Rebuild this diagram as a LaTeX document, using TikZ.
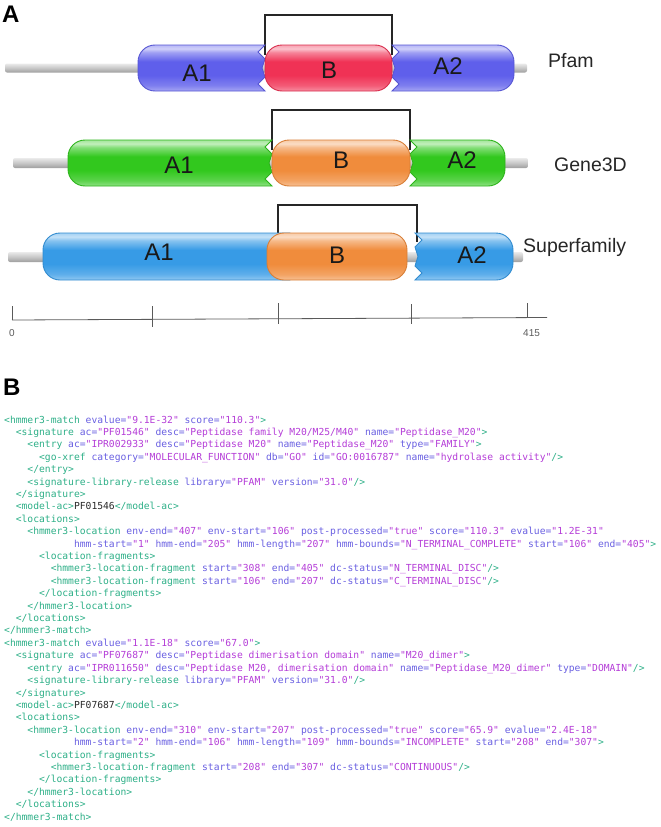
\documentclass[tikz,border=0pt]{standalone}
\usepackage{fontspec}
\setmainfont{Liberation Sans}
\setmonofont{DejaVu Sans Mono}
\definecolor{pfblue}{RGB}{95,95,235}
\definecolor{pfred}{RGB}{240,50,85}
\definecolor{gtgreen}{RGB}{50,200,30}
\definecolor{orng}{RGB}{240,140,60}
\definecolor{sfblue}{RGB}{55,155,230}
\definecolor{tagc}{RGB}{45,175,135}
\definecolor{attc}{RGB}{105,95,225}
\definecolor{valc}{RGB}{180,60,215}
\definecolor{txtc}{RGB}{40,40,40}
\definecolor{axc}{RGB}{90,90,90}
\newcommand{\mkgloss}[1]{\pgfdeclareverticalshading{gloss#1}{100bp}{color(0bp)=(#1!55!white); color(25bp)=(#1!55!white); color(31bp)=(#1!80!white); color(42bp)=(#1); color(57bp)=(#1); color(67bp)=(#1!60!white); color(71bp)=(#1!30!white); color(75bp)=(#1!45!white); color(100bp)=(#1!45!white)}}
\mkgloss{pfblue}\mkgloss{pfred}\mkgloss{gtgreen}\mkgloss{orng}\mkgloss{sfblue}
\newcommand{\xtag}[1]{\textcolor{tagc}{#1}}
\newcommand{\xatt}[1]{\textcolor{attc}{#1}}
\newcommand{\xval}[1]{\textcolor{valc}{#1}}
\newcommand{\xa}[2]{\xatt{#1=}\xval{"#2"}}
\newcommand{\xl}[3]{\node[codeline] (L#1) at ({4+#2*5.82},{423+(#1-1)*12.41}) {#3};}
% pill: rounded left, notched right
\newcommand{\pillLN}[5]{\path[pill=#1] ({#3},{#4}) -- ({#2+17},{#4}) .. controls ({#2+7.6},{#4}) and ({#2},{#4+7.6}) .. ({#2},{#4+17}) -- ({#2},{#5-17}) .. controls ({#2},{#5-7.6}) and ({#2+7.6},{#5}) .. ({#2+17},{#5}) -- ({#3},{#5}) -- ({#3-7},{#5-7}) -- ({#3},{#5-14}) -- ({#3-3},{(#4+#5)/2}) -- ({#3},{#4+14}) -- ({#3-7},{#4+7}) -- cycle;}
% pill: notched left, rounded right
\newcommand{\pillNR}[5]{\path[pill=#1] ({#2},{#4}) -- ({#3-17},{#4}) .. controls ({#3-7.6},{#4}) and ({#3},{#4+7.6}) .. ({#3},{#4+17}) -- ({#3},{#5-17}) .. controls ({#3},{#5-7.6}) and ({#3-7.6},{#5}) .. ({#3-17},{#5}) -- ({#2},{#5}) -- ({#2+7},{#5-7}) -- ({#2},{#5-14}) -- ({#2+3},{(#4+#5)/2}) -- ({#2},{#4+14}) -- ({#2+7},{#4+7}) -- cycle;}
% pill: rounded left, square right
\newcommand{\pillLS}[5]{\path[pill=#1] ({#3},{#4}) -- ({#2+17},{#4}) .. controls ({#2+7.6},{#4}) and ({#2},{#4+7.6}) .. ({#2},{#4+17}) -- ({#2},{#5-17}) .. controls ({#2},{#5-7.6}) and ({#2+7.6},{#5}) .. ({#2+17},{#5}) -- ({#3},{#5}) -- cycle;}
% pill: rounded both ends
\newcommand{\pillRR}[5]{\path[pill=#1, rounded corners=17pt] ({#2},{#4}) rectangle ({#3},{#5});}
\begin{document}
\begin{tikzpicture}[x=1pt,y=-1pt,
  pill/.style={shade, shading=gloss#1, draw=#1!90!black, line width=0.9pt},
  greyline/.style={top color=black!8, bottom color=black!38, middle color=black!22, rounded corners=2pt},
  bracket/.style={draw=black!85, line width=1.4pt},
  dlabel/.style={font=\fontsize{24}{26}\selectfont, text=black!90, inner sep=0pt},
  dbname/.style={font=\fontsize{19.5}{22}\selectfont, text=black!85, anchor=base west, inner sep=0pt},
  panel/.style={font=\bfseries\fontsize{24}{26}\selectfont, anchor=base west, inner sep=0pt},
  axis/.style={draw=axc, line width=0.8pt},
  axlabel/.style={font=\fontsize{10}{12}\selectfont, text=axc, inner sep=0pt},
  codeline/.style={anchor=base west, inner sep=0pt, font=\ttfamily\fontsize{9.67}{11}\selectfont\frenchspacing, text=txtc}]
\useasboundingbox (0,0) rectangle (661,827);

% ---------------- Panel A ----------------
\node[panel] (pA) at (2,22) {A};

% Pfam row
\path[greyline] (5,63.5) rectangle (527,72.5);
\coordinate (pfb1) at (265,55); \coordinate (pfb2) at (392,55);
\draw[bracket] (pfb1) -- (265,15) -- (392,15) -- (pfb2);
\pillLN{pfblue}{138}{265}{45}{91}
\pillNR{pfblue}{392}{514}{45}{91}
\pillRR{pfred}{265}{392}{45}{91}
\node[dlabel] (pfA1) at (197,73) {A1};
\node[dlabel] (pfB) at (329,70) {B};
\node[dlabel] (pfA2) at (448,66) {A2};
\node[dbname] (pfam) at (548,67) {Pfam};

% Gene3D row
\path[greyline] (13,158) rectangle (528,168);
\coordinate (gb1) at (272,150); \coordinate (gb2) at (410,150);
\draw[bracket] (gb1) -- (272,110) -- (410,110) -- (gb2);
\pillLN{gtgreen}{68}{272}{140}{186}
\pillNR{gtgreen}{410}{505}{140}{186}
\pillRR{orng}{272}{410}{140}{186}
\node[dlabel] (gA1) at (179,165) {A1};
\node[dlabel] (gB) at (341,160) {B};
\node[dlabel] (gA2) at (462,160) {A2};
\node[dbname] (gene3d) at (554,171) {Gene3D};

% Superfamily row
\path[greyline] (8,252) rectangle (523,262);
\coordinate (sb1) at (278,240); \coordinate (sb2) at (417,242);
\draw[bracket] (sb1) -- (278,205) -- (417,205) -- (sb2);
\pillLS{sfblue}{43}{290}{233}{280}
\pillNR{sfblue}{415}{513}{233}{280}
\pillRR{orng}{267}{407}{233}{280}
\node[dlabel] (sA1) at (159,252) {A1};
\node[dlabel] (sB) at (337,255) {B};
\node[dlabel] (sA2) at (472,255) {A2};
\node[dbname] (superfam) at (523,252) {Superfamily};

% scale axis
\coordinate (ax0) at (12,320); \coordinate (ax1) at (547,317.5);
\draw[axis] (ax0) -- (ax1);
\draw[axis] (12,306) -- (12,320);
\draw[axis] (152,306) -- (152,327);
\draw[axis] (278,303) -- (278,324);
\draw[axis] (411,304) -- (411,324);
\draw[axis] (527,303) -- (527,318);
\node[axlabel] (t0) at (12,333) {0};
\node[axlabel, anchor=west] (t415) at (523,333) {415};

% ---------------- Panel B ----------------
\node[panel] (pB) at (3,395) {B};

\xl{1}{0}{\xtag{<hmmer3-match} \xa{evalue}{9.1E-32} \xa{score}{110.3}\xtag{>}}
\xl{2}{2}{\xtag{<signature} \xa{ac}{PF01546} \xa{desc}{Peptidase family M20/M25/M40} \xa{name}{Peptidase\_M20}\xtag{>}}
\xl{3}{4}{\xtag{<entry} \xa{ac}{IPR002933} \xa{desc}{Peptidase M20} \xa{name}{Peptidase\_M20} \xa{type}{FAMILY}\xtag{>}}
\xl{4}{6}{\xtag{<go-xref} \xa{category}{MOLECULAR\_FUNCTION} \xa{db}{GO} \xa{id}{GO:0016787} \xa{name}{hydrolase activity}\xtag{/>}}
\xl{5}{4}{\xtag{</entry>}}
\xl{6}{4}{\xtag{<signature-library-release} \xa{library}{PFAM} \xa{version}{31.0}\xtag{/>}}
\xl{7}{2}{\xtag{</signature>}}
\xl{8}{2}{\xtag{<model-ac>}PF01546\xtag{</model-ac>}}
\xl{9}{2}{\xtag{<locations>}}
\xl{10}{4}{\xtag{<hmmer3-location} \xa{env-end}{407} \xa{env-start}{106} \xa{post-processed}{true} \xa{score}{110.3} \xa{evalue}{1.2E-31}}
\xl{11}{12}{\xa{hmm-start}{1} \xa{hmm-end}{205} \xa{hmm-length}{207} \xa{hmm-bounds}{N\_TERMINAL\_COMPLETE} \xa{start}{106} \xa{end}{405}\xtag{>}}
\xl{12}{6}{\xtag{<location-fragments>}}
\xl{13}{8}{\xtag{<hmmer3-location-fragment} \xa{start}{308} \xa{end}{405} \xa{dc-status}{N\_TERMINAL\_DISC}\xtag{/>}}
\xl{14}{8}{\xtag{<hmmer3-location-fragment} \xa{start}{106} \xa{end}{207} \xa{dc-status}{C\_TERMINAL\_DISC}\xtag{/>}}
\xl{15}{6}{\xtag{</location-fragments>}}
\xl{16}{4}{\xtag{</hmmer3-location>}}
\xl{17}{2}{\xtag{</locations>}}
\xl{18}{0}{\xtag{</hmmer3-match>}}
\xl{19}{0}{\xtag{<hmmer3-match} \xa{evalue}{1.1E-18} \xa{score}{67.0}\xtag{>}}
\xl{20}{2}{\xtag{<signature} \xa{ac}{PF07687} \xa{desc}{Peptidase dimerisation domain} \xa{name}{M20\_dimer}\xtag{>}}
\xl{21}{4}{\xtag{<entry} \xa{ac}{IPR011650} \xa{desc}{Peptidase M20, dimerisation domain} \xa{name}{Peptidase\_M20\_dimer} \xa{type}{DOMAIN}\xtag{/>}}
\xl{22}{4}{\xtag{<signature-library-release} \xa{library}{PFAM} \xa{version}{31.0}\xtag{/>}}
\xl{23}{2}{\xtag{</signature>}}
\xl{24}{2}{\xtag{<model-ac>}PF07687\xtag{</model-ac>}}
\xl{25}{2}{\xtag{<locations>}}
\xl{26}{4}{\xtag{<hmmer3-location} \xa{env-end}{310} \xa{env-start}{207} \xa{post-processed}{true} \xa{score}{65.9} \xa{evalue}{2.4E-18}}
\xl{27}{12}{\xa{hmm-start}{2} \xa{hmm-end}{106} \xa{hmm-length}{109} \xa{hmm-bounds}{INCOMPLETE} \xa{start}{208} \xa{end}{307}\xtag{>}}
\xl{28}{6}{\xtag{<location-fragments>}}
\xl{29}{8}{\xtag{<hmmer3-location-fragment} \xa{start}{208} \xa{end}{307} \xa{dc-status}{CONTINUOUS}\xtag{/>}}
\xl{30}{6}{\xtag{</location-fragments>}}
\xl{31}{4}{\xtag{</hmmer3-location>}}
\xl{32}{2}{\xtag{</locations>}}
\xl{33}{0}{\xtag{</hmmer3-match>}}
\end{tikzpicture}
\end{document}
